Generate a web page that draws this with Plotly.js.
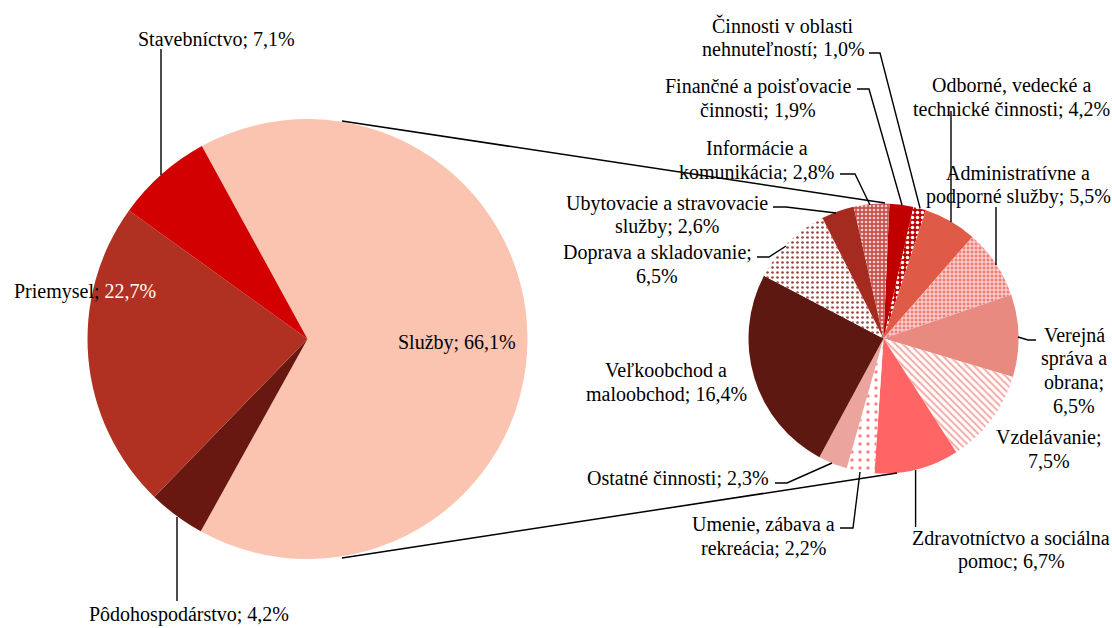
<!DOCTYPE html>
<html>
<head>
<meta charset="utf-8">
<script src="https://cdn.plot.ly/plotly-3.0.1.min.js"></script>
<style>html,body{margin:0;padding:0;background:#fff;}#chart{width:1112px;height:628px;}</style>
</head>
<body>
<div id="chart"></div>
<script>
// ---- DATA ----
var mainCategories = ['Služby', 'Pôdohospodárstvo', 'Priemysel', 'Stavebníctvo'];
var mainValues = [66.1, 4.2, 22.7, 7.1];

var subCategories = [
  'Finančné a poisťovacie\nčinnosti',
  'Činnosti v oblasti\nnehnuteľností',
  'Odborné, vedecké a\ntechnické činnosti',
  'Administratívne a\npodporné služby',
  'Verejná\nspráva a\nobrana',
  'Vzdelávanie',
  'Zdravotníctvo a sociálna\npomoc',
  'Umenie, zábava a\nrekreácia',
  'Ostatné činnosti',
  'Veľkoobchod a\nmaloobchod',
  'Doprava a skladovanie',
  'Ubytovacie a stravovacie\nslužby',
  'Informácie a\nkomunikácia'
];
var subValues = [1.9, 1.0, 4.2, 5.5, 6.5, 7.5, 6.7, 2.2, 2.3, 16.4, 6.5, 2.6, 2.8];
var subValueOnNewLine = [false, false, false, false, true, true, false, false, false, false, true, false, false];

// ---- STYLE / LAYOUT ----
var W = 1112, H = 628;
var mainColors = ['#FBC4B0', '#691711', '#B03122', '#D20000'];
var subColors = ['#C00000', '#C00000', '#E05A48', '#EF7D77', '#E88A7F', '#FFFFFF', '#FF6565', '#FFFFFF', '#EBA59E', '#5D1911', '#FFFFFF', '#A52A20', '#C9524E'];
var subPattern = {
  shape:    ['', '.', '', '+', '', '\\', '', '.', '', '', '.', '', '.'],
  fgcolor:  ['#C00000', '#FFFFFF', '#E05A48', '#FFFFFF', '#E88A7F', '#F4AAA6', '#FF6565', '#FF8585', '#EBA59E', '#5D1911', '#9A463C', '#A52A20', '#F3D0CE'],
  bgcolor:  ['#C00000', '#C00000', '#E05A48', '#F07E78', '#E88A7F', '#FFFFFF', '#FF6565', '#FFFFFF', '#EBA59E', '#5D1911', '#FFFFFF', '#A52A20', '#C9524E'],
  size:     [6, 5, 6, 4, 6, 5, 6, 8, 6, 6, 5, 6, 4],
  solidity: [0.3, 0.4, 0.3, 0.35, 0.3, 0.4, 0.3, 0.15, 0.3, 0.3, 0.22, 0.3, 0.35]
};

// pie geometry in px (center, radius)
var leftPie = {cx: 307.5, cy: 339, r: 220};
var rightPie = {cx: 883.5, cy: 338.5, r: 135};
function domainOf(p) {
  return {x: [(p.cx - p.r) / W, (p.cx + p.r) / W], y: [1 - (p.cy + p.r) / H, 1 - (p.cy - p.r) / H]};
}

// label positions (center x, first line y) in px
var mainLabelPos = [[457, 342, 'center'], [189, 614, 'center'], [12, 291, 'left'], [216, 39, 'center']];
var subLabelPos = [[758, 86], [783, 25], [1011, 85], [1018, 173], [1074, 335], [1049, 437], [1011, 538], [763, 524], [678, 478], [666, 370], [657, 252], [667, 203], [757, 148]];
var lineGap = 23.5;

var leaders = [
  [[857, 89], [869, 89], [902, 205]],
  [[869, 53], [880, 53], [920, 208]],
  [[951, 111], [951, 222]],
  [[996, 207], [996, 265]],
  [[1018, 337], [1028, 340], [1036, 340]],
  null,
  [[915.6, 470], [915.6, 527]],
  [[840, 528], [853, 528], [860, 472]],
  [[775, 483], [787, 483], [832, 463]],
  null,
  [[757, 257], [769, 257], [786, 246]],
  [[773, 207], [786, 207], [836, 213]],
  [[840, 174], [855, 174], [870, 205]],
  [[161, 49], [161, 175]],
  [[177, 517], [177, 601]]
];
var connectors = [
  [[342, 121], [885, 203]],
  [[342, 558], [897, 473]]
];

function fmt(v) { return v.toFixed(1).replace('.', ','); }

var FONT = {family: 'Liberation Serif, Times New Roman, serif', size: 20, color: '#000000'};

var traces = [
  {
    type: 'pie', labels: mainCategories, values: mainValues, sort: false,
    direction: 'clockwise', rotation: -28.7, textinfo: 'none', hoverinfo: 'label+value',
    marker: {colors: mainColors, line: {width: 0}}, domain: domainOf(leftPie), showlegend: false
  },
  {
    type: 'pie', labels: subCategories.map(function (s) { return s.replace(/\n/g, ' '); }), values: subValues, sort: false,
    direction: 'clockwise', rotation: 2.5, textinfo: 'none', hoverinfo: 'label+value',
    marker: {colors: subColors, line: {width: 0}, pattern: subPattern}, domain: domainOf(rightPie), showlegend: false
  }
];

var annotations = [];
function addLabel(lines, x, y, anchor) {
  lines.forEach(function (t, i) {
    annotations.push({
      x: x, y: y + i * lineGap, xref: 'x', yref: 'y', text: t, showarrow: false,
      xanchor: anchor || 'center', yanchor: 'middle', font: FONT
    });
  });
}
mainCategories.forEach(function (c, i) {
  var p = mainLabelPos[i];
  var txt = c + '; ' + fmt(mainValues[i]) + '%';
  if (c === 'Priemysel') txt = c + '; <span style="color:#FFFFFF">' + fmt(mainValues[i]) + '%</span>';
  addLabel([txt], p[0], p[1], p[2]);
});
subCategories.forEach(function (c, i) {
  var full = c + (subValueOnNewLine[i] ? ';\n' : '; ') + fmt(subValues[i]) + '%';
  addLabel(full.split('\n'), subLabelPos[i][0], subLabelPos[i][1], 'center');
});

function pathOf(pts) {
  return pts.map(function (p, i) { return (i ? 'L' : 'M') + p[0] + ',' + p[1]; }).join(' ');
}
var shapes = [];
leaders.forEach(function (pts) {
  if (!pts) return;
  shapes.push({type: 'path', xref: 'x', yref: 'y', path: pathOf(pts), line: {color: '#000000', width: 1.4}});
});
connectors.forEach(function (pts) {
  shapes.push({type: 'path', xref: 'x', yref: 'y', path: pathOf(pts), line: {color: '#000000', width: 1.5}});
});

var layout = {
  width: W, height: H, margin: {l: 0, r: 0, t: 0, b: 0},
  paper_bgcolor: '#FFFFFF', plot_bgcolor: 'rgba(0,0,0,0)',
  showlegend: false,
  xaxis: {range: [0, W], visible: false, fixedrange: true, domain: [0, 1]},
  yaxis: {range: [H, 0], visible: false, fixedrange: true, domain: [0, 1]},
  annotations: annotations, shapes: shapes
};

Plotly.newPlot('chart', traces, layout, {displayModeBar: false, staticPlot: true});
</script>
</body>
</html>
